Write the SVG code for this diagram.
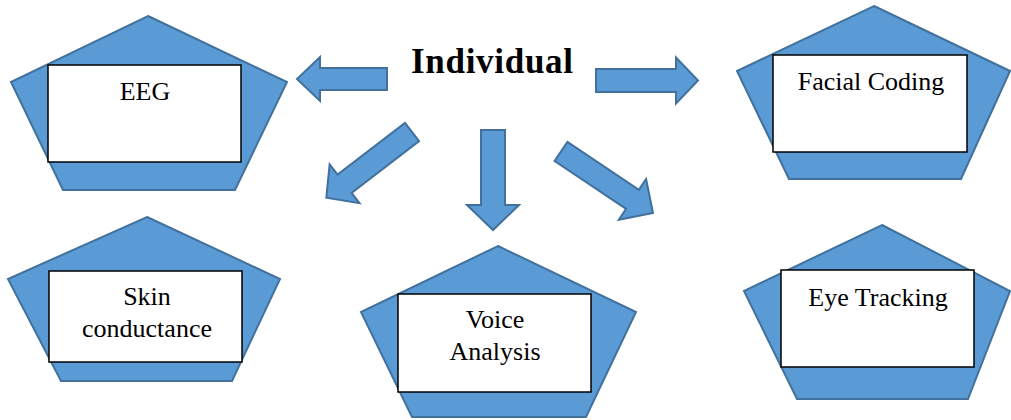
<svg xmlns="http://www.w3.org/2000/svg" width="1011" height="420" viewBox="0 0 1011 420">
<style>
.pent{fill:#5B9BD5;stroke:#41719C;stroke-width:2;stroke-linejoin:miter}
.box{fill:#fff;stroke:#000;stroke-width:1.5}
.lbl{font-family:"Liberation Serif","Times New Roman",serif;font-size:26px;fill:#000;text-anchor:middle}
.arr{fill:#5B9BD5;stroke:#41719C;stroke-width:2}
.title{font-family:"Liberation Serif","Times New Roman",serif;font-size:35px;font-weight:bold;fill:#000;text-anchor:middle}
</style>
<rect width="1011" height="420" fill="#fff"/>
<g id="individual">
<text class="title" x="492" y="73" textLength="162" lengthAdjust="spacing">Individual</text>
</g>
<g id="eeg">
<polygon class="pent" points="148,16 287,82 235,190 63,190 11,82"/>
<rect class="box" x="48" y="65" width="193" height="97"/>
<text class="lbl" x="145" y="100">EEG</text>
</g>
<g id="facial-coding">
<polygon class="pent" points="874,6 1010,71 961,179 789,179 737,71"/>
<rect class="box" x="773" y="55" width="194" height="97"/>
<text class="lbl" x="871" y="90">Facial Coding</text>
</g>
<g id="skin-conductance">
<polygon class="pent" points="147,217 280,279 232,381 61,381 8,279"/>
<rect class="box" x="49" y="271" width="193" height="91"/>
<text class="lbl" x="147" y="305">Skin</text>
<text class="lbl" x="147" y="337">conductance</text>
</g>
<g id="voice-analysis">
<polygon class="pent" points="498,246 636,312 586,417 412,417 361,312"/>
<rect class="box" x="398" y="294" width="193" height="98"/>
<text class="lbl" x="495" y="328">Voice</text>
<text class="lbl" x="495" y="360">Analysis</text>
</g>
<g id="eye-tracking">
<polygon class="pent" points="882,225 1010,291 968,399 797,399 744,291"/>
<rect class="box" x="781" y="270" width="193" height="97"/>
<text class="lbl" x="878" y="306">Eye Tracking</text>
</g>
<g id="connectors">
<polygon class="arr" transform="translate(387,79) rotate(180)" points="0,-11 67,-11 67,-22 90,0 67,22 67,11 0,11"/>
<polygon class="arr" transform="translate(596,80.5) rotate(0)" points="0,-11.5 80,-11.5 80,-23 102,0 80,23 80,11.5 0,11.5"/>
<polygon class="arr" transform="translate(493,130) rotate(90)" points="0,-12 75,-12 75,-26 100,0 75,26 75,12 0,12"/>
<polygon class="arr" transform="translate(412,132) rotate(142.5)" points="0,-11.5 85,-11.5 85,-24.5 108,0 85,24.5 85,11.5 0,11.5"/>
<polygon class="arr" transform="translate(561,151.5) rotate(33.8)" points="0,-11.5 86,-11.5 86,-24.5 110.7,0 86,24.5 86,11.5 0,11.5"/>
</g>
</svg>
